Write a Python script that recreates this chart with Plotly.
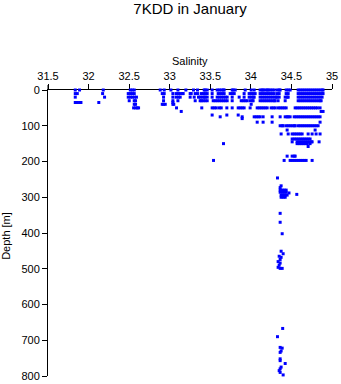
import plotly.graph_objects as go

# Salinity values observed at each (rounded) depth level [m]
sal_000 = [31.836, 31.889, 32.181, 32.514, 32.538, 32.563, 32.883, 32.932, 33.015, 33.101, 33.199, 33.293,
           33.342, 33.425, 33.437, 33.462, 33.523, 33.585, 33.610, 33.635, 33.660, 33.671, 33.770, 33.782,
           33.807, 33.930, 34.004, 34.041, 34.114, 34.139, 34.151, 34.176, 34.201, 34.213, 34.238, 34.262,
           34.287, 34.324, 34.349, 34.361, 34.435, 34.460, 34.484, 34.583, 34.607, 34.632, 34.656, 34.681,
           34.706, 34.730, 34.755, 34.780, 34.804, 34.829, 34.853, 34.878, 34.890]
sal_010 = [31.836, 31.861, 32.173, 32.489, 32.514, 32.538, 32.563, 32.908, 32.932, 33.039, 33.080, 33.105,
           33.129, 33.154, 33.166, 33.252, 33.265, 33.314, 33.342, 33.388, 33.413, 33.437, 33.462, 33.523,
           33.597, 33.622, 33.647, 33.671, 33.745, 33.770, 33.795, 33.917, 33.979, 34.004, 34.028, 34.053,
           34.114, 34.139, 34.164, 34.188, 34.213, 34.238, 34.263, 34.287, 34.324, 34.349, 34.435, 34.460,
           34.583, 34.607, 34.632, 34.656, 34.681, 34.706, 34.730, 34.755, 34.780, 34.804, 34.829, 34.853,
           34.878, 34.890]
sal_020 = [31.836, 32.197, 32.489, 32.514, 32.540, 32.565, 32.590, 32.924, 33.039, 33.080, 33.108, 33.129,
           33.252, 33.302, 33.355, 33.375, 33.400, 33.425, 33.437, 33.462, 33.523, 33.585, 33.610, 33.635,
           33.660, 33.685, 33.708, 33.770, 33.856, 33.917, 33.979, 34.004, 34.028, 34.041, 34.114, 34.139,
           34.164, 34.188, 34.213, 34.238, 34.262, 34.287, 34.310, 34.324, 34.349, 34.423, 34.447, 34.460,
           34.583, 34.607, 34.632, 34.656, 34.681, 34.706, 34.730, 34.755, 34.780, 34.804, 34.829, 34.853,
           34.878]
sal_030 = [32.501, 32.563, 32.579, 32.924, 33.039, 33.101, 33.314, 33.375, 33.390, 33.413, 33.437, 33.462,
           33.536, 33.560, 33.585, 33.610, 33.635, 33.660, 33.684, 33.708, 33.770, 33.881, 33.905, 33.930,
           33.954, 33.991, 34.016, 34.028, 34.114, 34.139, 34.164, 34.188, 34.213, 34.238, 34.262, 34.287,
           34.299, 34.336, 34.423, 34.583, 34.607, 34.632, 34.656, 34.681, 34.706, 34.730, 34.755, 34.780,
           34.804, 34.829, 34.853, 34.866]
sal_035 = [31.836, 31.861, 31.889, 31.906, 32.126, 33.039]
sal_040 = [32.563, 32.579, 32.908, 32.924, 32.945, 33.039, 33.050, 34.004]
sal_050 = [32.555, 32.580, 32.600, 32.616, 33.084, 33.395, 33.523, 33.548, 33.573, 33.610, 33.635, 33.704,
           33.770, 33.844, 33.868, 33.893, 33.917, 33.991, 34.078, 34.103, 34.127, 34.151, 34.176, 34.201,
           34.250, 34.275, 34.300, 34.336, 34.361, 34.386, 34.410, 34.435, 34.546, 34.570, 34.595, 34.620,
           34.645, 34.670, 34.695, 34.720, 34.745, 34.770, 34.795, 34.820, 34.853]
sal_060 = [33.142, 34.866, 34.890]
sal_070 = [33.523, 33.704, 33.844]
sal_075 = [33.622, 33.893, 34.041, 34.066, 34.090, 34.114, 34.151, 34.262, 34.361, 34.423, 34.447, 34.460,
           34.484, 34.534, 34.558, 34.583, 34.607, 34.632, 34.656, 34.681, 34.706, 34.730, 34.755, 34.780,
           34.804, 34.829, 34.853]
sal_080 = [33.893]
sal_090 = [34.078, 34.151, 34.262, 34.853]
sal_100 = [34.361, 34.386, 34.398, 34.435, 34.460, 34.484, 34.509, 34.534, 34.546, 34.583, 34.607, 34.632,
           34.656, 34.681, 34.706, 34.730, 34.755, 34.780, 34.804, 34.829]
sal_112 = [34.447, 34.792]
sal_123 = [34.373, 34.460, 34.509, 34.534, 34.558, 34.583, 34.607, 34.632, 34.706, 34.755, 34.804, 34.853]
sal_137 = [34.509, 34.534, 34.558, 34.583, 34.607, 34.632, 34.656, 34.681, 34.706, 34.730]
sal_145 = [34.509, 34.570, 34.595, 34.620, 34.645, 34.670, 34.695, 34.720, 34.745, 34.755, 34.841]
sal_150 = [33.663, 34.570, 34.595, 34.620, 34.645, 34.670, 34.695, 34.730]
sal_158 = [34.706]
sal_185 = [34.447, 34.509, 34.534, 34.546]
sal_197 = [33.540, 34.410, 34.484, 34.509, 34.534, 34.558, 34.583, 34.607, 34.632, 34.656, 34.681, 34.755]

levels = [(0, sal_000), (10, sal_010), (20, sal_020), (30, sal_030), (35, sal_035), (40, sal_040),
          (50, sal_050), (60, sal_060), (70, sal_070), (75, sal_075), (80, sal_080), (90, sal_090),
          (100, sal_100), (112, sal_112), (123, sal_123), (137, sal_137), (145, sal_145), (150, sal_150),
          (158, sal_158), (185, sal_185), (197, sal_197)]

# Deep observations (salinity, depth)
deep_sal = [34.328, 34.373, 34.361, 34.361, 34.386, 34.410, 34.435, 34.361, 34.386, 34.410, 34.435, 34.470,
            34.373, 34.398, 34.423, 34.447, 34.373, 34.398, 34.423, 34.566,
            34.361, 34.361, 34.386,
            34.373, 34.398, 34.349, 34.373, 34.361, 34.336, 34.361, 34.349, 34.336, 34.361, 34.386,
            34.392, 34.328, 34.361, 34.386, 34.373, 34.361, 34.361, 34.361, 34.423, 34.373, 34.361,
            34.349, 34.361, 34.398]
deep_depth = [246, 268, 273, 280, 280, 280, 280, 286, 286, 286, 286, 288,
              294, 294, 294, 294, 300, 300, 300, 292,
              345, 370, 402,
              451, 458, 465, 468, 474, 480, 484, 490, 496, 499, 499,
              667, 690, 720, 722, 730, 734, 752, 757, 765, 775, 780,
              785, 790, 797]

x_vals, y_vals = [], []
for d, sals in levels:
    x_vals += sals
    y_vals += [d] * len(sals)
x_vals += deep_sal
y_vals += deep_depth

FONT = "Liberation Sans, Arial, sans-serif"

fig = go.Figure(go.Scatter(
    x=x_vals, y=y_vals, mode="markers",
    marker=dict(symbol="square", size=3, color="#0000FF", line=dict(width=0)),
    cliponaxis=False, hoverinfo="x+y",
))

fig.update_layout(
    width=341, height=384,
    margin=dict(l=48, r=9, t=90, b=8, autoexpand=False),
    paper_bgcolor="white", plot_bgcolor="white",
    showlegend=False,
    font=dict(family=FONT, color="black", size=11),
    title=dict(text="7KDD in January", x=0.5, xref="paper", xanchor="center",
               y=1 - 9 / 384, yref="container", yanchor="middle",
               font=dict(family=FONT, size=15, color="black")),
    xaxis=dict(range=[31.5, 35], side="top", dtick=0.5, tick0=31.5, automargin=False,
               showgrid=False, zeroline=False, showline=True, linecolor="black", linewidth=1,
               ticks="outside", ticklen=5, tickcolor="black", tickwidth=1,
               tickfont=dict(family=FONT, size=11, color="black"), layer="below traces"),
    yaxis=dict(range=[800, 0], dtick=100, tick0=0, automargin=False,
               showgrid=False, zeroline=False, showline=True, linecolor="black", linewidth=1,
               ticks="outside", ticklen=5, tickcolor="black", tickwidth=1,
               tickfont=dict(family=FONT, size=11, color="black"), layer="below traces"),
    annotations=[
        dict(text="Salinity", xref="paper", yref="paper", x=0.5, y=1 + (90 - 61) / 286,
             xanchor="center", yanchor="middle", showarrow=False,
             font=dict(family=FONT, size=11, color="black")),
        dict(text="Depth [m]", xref="paper", yref="paper", x=(6 - 48) / 284, y=0.49,
             xanchor="center", yanchor="middle", showarrow=False, textangle=-90,
             font=dict(family=FONT, size=11, color="black")),
    ],
    shapes=[dict(type="line", xref="paper", yref="paper", x0=0, x1=0, y0=1, y1=1 + 5 / 286,
                 line=dict(color="black", width=1))],
)

fig.write_html("out.html", config={"displayModeBar": False},
               post_script="document.body.style.margin='0';document.body.style.padding='0';"
                           "document.documentElement.style.overflow='hidden';")
